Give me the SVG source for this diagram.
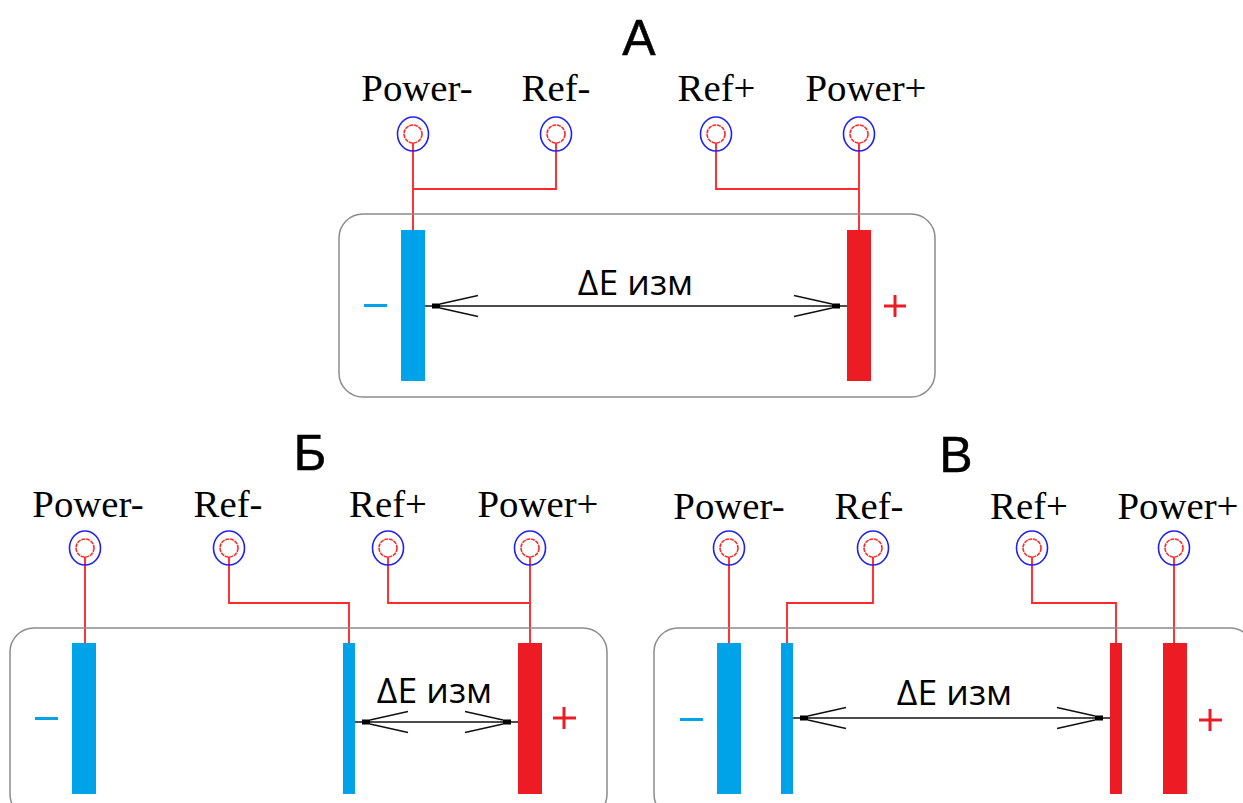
<svg xmlns="http://www.w3.org/2000/svg" width="1243" height="803" viewBox="0 0 1243 803">
<style>
.bg{fill:#fff}
.case{fill:none;stroke:#8c8c8c;stroke-width:1.5}
.blue{fill:#00a2e8}
.red{fill:#ed1c24}
.wire{fill:none;stroke:#ff2a2a;stroke-width:1.9}
.outer{fill:none;stroke:#2222f0;stroke-width:1.6}
.inner{fill:none;stroke:#ff2a2a;stroke-width:1.6;stroke-dasharray:4 .8}
.lbl{font-family:"Liberation Serif",serif;font-size:38.8px;fill:#000;text-anchor:middle}
.ttl{font-family:"Liberation Sans",sans-serif;font-size:50px;fill:#000;text-anchor:middle;stroke:#000;stroke-width:.5}
.de{font-family:"Open Sans",sans-serif;font-size:35.500px;fill:#000;text-anchor:middle}
.dim{fill:none;stroke:#111;stroke-width:1.6}
.tip{fill:#000}
.sb{fill:none;stroke:#00a2e8;stroke-width:3}
.sr{fill:none;stroke:#ed1c24;stroke-width:3}
</style>
<defs>
<g id="term"><ellipse class="outer" cx="0" cy="0" rx="15.500" ry="17"/><circle class="inner" cx="0" cy="0" r="9"/></g>
<g id="headL"><rect class="tip" x="7" y="-2.500" width="8" height="5"/><path class="dim" d="M15 -2L53 -10.500M15 2L53 10.500"/></g>
<g id="headR"><rect class="tip" x="-15" y="-2.500" width="8" height="5"/><path class="dim" d="M-15 -2L-53 -10.500M-15 2L-53 10.500"/></g>
</defs>
<rect class="bg" width="1243" height="803"/>
<g id="connectors">
<path class="wire" d="M413 143V230M413 189H556V143"/>
<path class="wire" d="M859 143V230M859 189H716V143"/>
<path class="wire" d="M85 557V643"/>
<path class="wire" d="M229 557V603H349V643"/>
<path class="wire" d="M530 557V643M530 603H388V557"/>
<path class="wire" d="M729 557V643"/>
<path class="wire" d="M873 557V603H787V643"/>
<path class="wire" d="M1032 557V603H1116V643"/>
<path class="wire" d="M1174 557V643"/>
</g>
<g id="panel-a">
<text class="ttl" x="639" y="55">А</text>
<rect class="case" x="339" y="214" width="596" height="183" rx="24"/>
<rect class="blue" x="401" y="230" width="24" height="151"/>
<rect class="red" x="847" y="230" width="24" height="151"/>
<path class="sb" d="M364 305.500H387"/>
<path class="sr" d="M884 306H906M895 295V317"/>
<text class="de" x="635.500" y="295">ΔE изм</text>
<path class="dim" d="M425 306H847"/>
<use href="#headL" x="425" y="306"/>
<use href="#headR" x="847" y="306"/>
</g>
<g id="panel-b">
<text class="ttl" x="310" y="470">Б</text>
<rect class="case" x="10" y="628" width="597" height="190" rx="24"/>
<rect class="blue" x="72" y="643" width="24" height="151"/>
<rect class="blue" x="343" y="643" width="12" height="151"/>
<rect class="red" x="518" y="643" width="24" height="151"/>
<path class="sb" d="M35 718.500H58"/>
<path class="sr" d="M553 718H576M564 707V729"/>
<text class="de" x="434.500" y="703">ΔE изм</text>
<path class="dim" d="M355 722H518"/>
<use href="#headL" x="355" y="722"/>
<use href="#headR" x="518" y="722"/>
</g>
<g id="panel-c">
<text class="ttl" x="956" y="472">В</text>
<rect class="case" x="654" y="628" width="600" height="190" rx="24"/>
<rect class="blue" x="717" y="643" width="24" height="151"/>
<rect class="blue" x="781" y="643" width="12" height="151"/>
<rect class="red" x="1110" y="643" width="12" height="151"/>
<rect class="red" x="1163" y="643" width="24" height="151"/>
<path class="sb" d="M680 719.500H703"/>
<path class="sr" d="M1199 720H1222M1210 709V731"/>
<text class="de" x="954.500" y="705">ΔE изм</text>
<path class="dim" d="M793 718H1110"/>
<use href="#headL" x="793" y="718"/>
<use href="#headR" x="1110" y="718"/>
</g>
<g id="term-a-power-minus"><text class="lbl" x="417" y="101">Power-</text><use href="#term" x="413" y="134"/></g>
<g id="term-a-ref-minus"><text class="lbl" x="556" y="101">Ref-</text><use href="#term" x="556" y="134"/></g>
<g id="term-a-ref-plus"><text class="lbl" x="716.500" y="101">Ref+</text><use href="#term" x="716" y="134"/></g>
<g id="term-a-power-plus"><text class="lbl" x="866" y="101">Power+</text><use href="#term" x="859" y="134"/></g>
<g id="term-b-power-minus"><text class="lbl" x="88" y="517">Power-</text><use href="#term" x="85" y="548"/></g>
<g id="term-b-ref-minus"><text class="lbl" x="228" y="517">Ref-</text><use href="#term" x="229" y="548"/></g>
<g id="term-b-ref-plus"><text class="lbl" x="388" y="517">Ref+</text><use href="#term" x="388" y="548"/></g>
<g id="term-b-power-plus"><text class="lbl" x="538" y="517">Power+</text><use href="#term" x="530" y="548"/></g>
<g id="term-c-power-minus"><text class="lbl" x="729" y="519">Power-</text><use href="#term" x="729" y="548"/></g>
<g id="term-c-ref-minus"><text class="lbl" x="869" y="519">Ref-</text><use href="#term" x="873" y="548"/></g>
<g id="term-c-ref-plus"><text class="lbl" x="1029" y="519">Ref+</text><use href="#term" x="1032" y="548"/></g>
<g id="term-c-power-plus"><text class="lbl" x="1178" y="519">Power+</text><use href="#term" x="1174" y="548"/></g>
</svg>
